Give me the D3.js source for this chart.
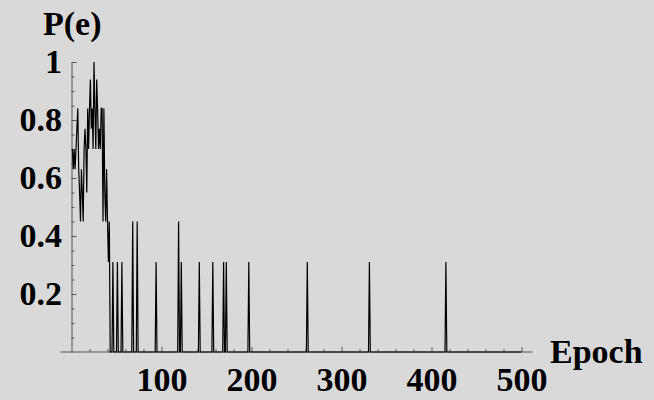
<!DOCTYPE html>
<html>
<head>
<meta charset="utf-8">
<script src="https://cdn.jsdelivr.net/npm/d3@7"></script>
<style>
  body { margin: 0; background: #ffffff; }
  svg text { font-family: "Liberation Serif", "Times New Roman", serif; font-weight: bold; fill: #000; }
</style>
</head>
<body>
<div id="chart"></div>
<script>
// P(e) per epoch
// epochs 1..45 (noisy start)
const earlyValues = [0.70, 0.63, 0.70, 0.63, 0.70, 0.77, 0.84, 0.63, 0.55, 0.45,
                     0.63, 0.55, 0.45, 0.70, 0.77, 0.70, 0.55, 0.84, 0.70, 0.84,
                     0.94, 0.77, 0.84, 0.70, 1.00, 0.84, 0.70, 0.94, 0.84, 0.70,
                     0.77, 0.70, 0.84, 0.84, 0.45, 0.84, 0.55, 0.45, 0.63, 0.45,
                     0.31, 0.45, 0, 0, 0];
// isolated spikes after that, everything else is 0
const spikeEpochs = [46, 51, 56, 68, 73, 94, 119, 122, 142, 157, 169, 172, 197, 262, 331, 416];
const spikeValues = [0.31, 0.31, 0.31, 0.45, 0.45, 0.31, 0.45, 0.31, 0.31, 0.31, 0.31, 0.31, 0.31, 0.31, 0.31, 0.31];
const lastEpoch = 500;

const xMajorTicks = [100, 200, 300, 400, 500];
const yMajorTicks = [0.2, 0.4, 0.6, 0.8, 1];

(function() {
    const W = 654, H = 400;

    const svg = d3.select("#chart")
        .append("svg")
        .attr("width", W)
        .attr("height", H);

    svg.append("rect")
        .attr("width", W)
        .attr("height", H)
        .attr("fill", "#d9d9d9");

    const x = d3.scaleLinear().domain([0, 500]).range([71.5, 521.5]);
    const y = d3.scaleLinear().domain([0, 1]).range([352, 62]);

    const data = d3.range(1, lastEpoch + 1).map(e => {
        let v = 0;
        if (e <= earlyValues.length) v = earlyValues[e - 1];
        const k = spikeEpochs.indexOf(e);
        if (k >= 0) v = spikeValues[k];
        return {epoch: e, value: v};
    });

    const axisColor = "#555";

    // x axis (ticks point up, Mathematica style)
    const xMinor = d3.range(20, 501, 20).filter(d => d % 100 !== 0);
    const gx = svg.append("g").attr("transform", `translate(0,${y(0)})`);
    gx.append("g")
        .call(d3.axisBottom(x).tickValues(xMinor).tickSize(-3).tickSizeOuter(0).tickFormat(""))
        .call(g => g.select(".domain").remove());
    gx.append("g")
        .call(d3.axisBottom(x).tickValues(xMajorTicks).tickSize(-5).tickSizeOuter(0).tickPadding(15))
        .call(g => g.select(".domain").attr("d", `M${x(-12.5)},0H${x(512.5)}`));
    gx.selectAll("text").style("font-size", "34px");

    // y axis (ticks point right)
    const yMinor = d3.range(1, 20).map(i => i * 0.05).filter(d => Math.abs(d * 5 - Math.round(d * 5)) > 1e-6);
    const gy = svg.append("g").attr("transform", `translate(${x(0)},0)`);
    gy.append("g")
        .call(d3.axisLeft(y).tickValues(yMinor).tickSize(-3).tickSizeOuter(0).tickFormat(""))
        .call(g => g.select(".domain").remove());
    gy.append("g")
        .call(d3.axisLeft(y).tickValues(yMajorTicks).tickSize(-5).tickSizeOuter(0).tickPadding(9.5)
            .tickFormat(d => d === 1 ? "1" : d3.format(".1f")(d).replace(/^0\.0$/, "0")));
    gy.selectAll("text").style("font-size", "34px");

    svg.selectAll(".domain, .tick line")
        .attr("stroke", axisColor)
        .attr("stroke-width", 1);
    svg.selectAll(".tick text").attr("font-family", null);

    // line
    const line = d3.line()
        .x(d => x(d.epoch))
        .y(d => y(d.value));

    svg.append("path")
        .datum(data)
        .attr("fill", "none")
        .attr("stroke", "#000")
        .attr("stroke-width", 1.2)
        .attr("stroke-linejoin", "miter")
        .attr("d", line);

    // axis titles
    svg.append("text")
        .attr("x", 43)
        .attr("y", 35)
        .style("font-size", "34px")
        .text("P(e)");

    svg.append("text")
        .attr("x", 550)
        .attr("y", 363)
        .style("font-size", "34px")
        .text("Epoch");
})();
</script>
</body>
</html>
